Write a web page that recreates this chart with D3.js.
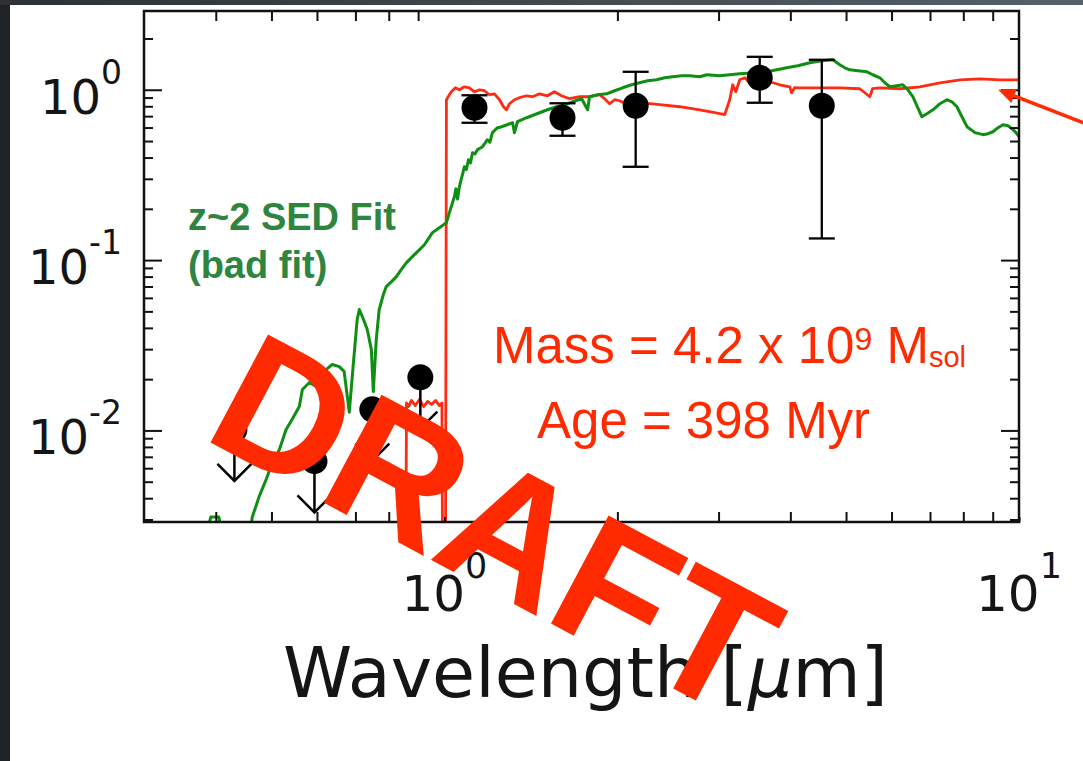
<!DOCTYPE html>
<html>
<head>
<meta charset="utf-8">
<script src="https://cdn.jsdelivr.net/npm/d3@7"></script>
<style>
  html, body { margin: 0; padding: 0; background: #24282c; }
  svg { display: block; }
</style>
</head>
<body>
<svg id="chart" width="1083" height="761"></svg>
<script>
// ---- SED model spectra: wavelength [um] and flux (arbitrary, normalised) ----
const redWave = [0.850, 0.856, 0.859, 0.866, 0.876, 0.890, 0.905, 0.920, 0.935, 0.950, 0.965, 0.980, 0.990, 0.993,
  1.004, 1.008, 1.020, 1.028, 1.045, 1.062, 1.083, 1.105, 1.128, 1.151, 1.174, 1.198, 1.222, 1.247, 1.267, 1.282,
  1.298, 1.324, 1.351, 1.390, 1.423, 1.464, 1.511, 1.554, 1.599, 1.651, 1.719, 1.789, 1.862, 1.900, 1.939, 1.978,
  2.018, 2.067, 2.143, 2.276, 2.369, 2.567, 2.782, 2.954, 3.075, 3.137, 3.175, 3.214, 3.266, 3.332, 3.426, 3.538,
  3.683, 3.833, 3.991, 4.020, 4.070, 4.154, 4.501, 4.877, 5.284, 5.500, 5.560, 5.726, 6.204, 6.722, 7.285, 7.892,
  8.552, 9.267, 10.0];
const redFlux = [0.0010, 0.0010, 0.0145, 0.0138, 0.0150, 0.0140, 0.0152, 0.0138, 0.0148, 0.0142, 0.0150, 0.0140, 0.0145, 0.0010,
  0.0010, 0.874, 0.935, 0.973, 1.027, 1.000, 1.041, 1.027, 0.973, 1.000, 0.987, 0.935, 0.947, 0.874, 0.795, 0.763,
  0.828, 0.874, 0.898, 0.922, 0.910, 0.947, 0.922, 0.973, 0.922, 0.886, 0.910, 0.910, 0.935, 0.886, 0.828, 0.874,
  0.862, 0.828, 0.828, 0.828, 0.817, 0.795, 0.763, 0.733, 0.714, 0.874, 1.070, 0.973, 1.144, 1.176, 1.070, 1.144,
  1.114, 1.070, 1.041, 0.960, 1.030, 1.027, 1.027, 1.027, 1.014, 0.910, 1.014, 1.027, 1.014, 1.041, 1.099, 1.144,
  1.160, 1.144, 1.144];

const greenWave = [0.380, 0.392, 0.405, 0.415, 0.455, 0.463, 0.476, 0.490, 0.502, 0.516, 0.530, 0.543, 0.559, 0.566,
  0.582, 0.598, 0.610, 0.623, 0.638, 0.656, 0.669, 0.683, 0.694, 0.705, 0.711, 0.723, 0.734, 0.746, 0.752, 0.761,
  0.770, 0.783, 0.792, 0.809, 0.825, 0.841, 0.859, 0.876, 0.894, 0.923, 0.953, 0.980, 1.008, 1.024, 1.041, 1.047,
  1.054, 1.062, 1.070, 1.075, 1.083, 1.092, 1.101, 1.110, 1.119, 1.130, 1.142, 1.165, 1.188, 1.200, 1.212, 1.237,
  1.255, 1.272, 1.314, 1.324, 1.340, 1.390, 1.464, 1.511, 1.567, 1.619, 1.671, 1.733, 1.775, 1.789, 1.847, 1.915,
  1.978, 2.042, 2.117, 2.186, 2.258, 2.341, 2.417, 2.496, 2.588, 2.672, 2.782, 2.861, 3.014, 3.137, 3.266, 3.468,
  3.639, 3.788, 3.943, 4.121, 4.324, 4.537, 4.742, 4.877, 4.976, 5.077, 5.242, 5.435, 5.567, 5.726, 5.842, 5.960,
  6.130, 6.279, 6.406, 6.535, 6.668, 6.776, 6.914, 7.083, 7.285, 7.492, 7.644, 7.798, 7.956, 8.118, 8.382, 8.655,
  8.831, 9.010, 9.192, 9.378, 9.568, 9.761, 9.881, 10.0];
const greenFlux = [0.0020, 0.0031, 0.0031, 0.0020, 0.0020, 0.0031, 0.0041, 0.0052, 0.0065, 0.0077, 0.0101, 0.0116, 0.0138, 0.0174,
  0.0191, 0.0181, 0.0207, 0.0228, 0.0244, 0.0237, 0.0222, 0.0128, 0.0244, 0.0448, 0.0513, 0.0448, 0.0391, 0.0299, 0.0169, 0.0342,
  0.0513, 0.0628, 0.0699, 0.0748, 0.0800, 0.0880, 0.0967, 0.1034, 0.1107, 0.123, 0.145, 0.155, 0.166, 0.198, 0.236, 0.262,
  0.228, 0.270, 0.300, 0.317, 0.353, 0.340, 0.388, 0.372, 0.427, 0.420, 0.445, 0.463, 0.509, 0.492, 0.560, 0.599,
  0.605, 0.615, 0.640, 0.560, 0.649, 0.685, 0.733, 0.763, 0.795, 0.817, 0.850, 0.886, 0.763, 0.910, 0.935, 0.947,
  0.987, 1.027, 1.070, 1.099, 1.129, 1.144, 1.176, 1.192, 1.208, 1.208, 1.192, 1.225, 1.208, 1.225, 1.241, 1.258,
  1.275, 1.310, 1.346, 1.383, 1.440, 1.479, 1.500, 1.402, 1.346, 1.310, 1.292, 1.275, 1.225, 1.176, 1.099, 1.041,
  1.056, 1.070, 1.000, 0.910, 0.784, 0.694, 0.723, 0.763, 0.828, 0.874, 0.850, 0.795, 0.694, 0.607, 0.560, 0.545,
  0.552, 0.567, 0.599, 0.623, 0.615, 0.583, 0.560, 0.530];

// ---- Photometry: detections with error bars ----
const photWave = [1.128, 1.605, 2.152, 3.538, 4.537];
const photFlux = [0.784, 0.685, 0.806, 1.176, 0.806];
const photLow  = [0.640, 0.537, 0.353, 0.839, 0.134];
const photHigh = [0.928, 0.833, 1.275, 1.561, 1.500];

// ---- Photometry: upper limits (arrow drawn down to half the limit) ----
const limWave = [0.431, 0.594, 0.749, 0.908];
const limFlux = [0.0101, 0.0066, 0.0133, 0.0205];

// ---- Axis ticks ----
const xMajorTicks = [1, 10];
const xMajorLabels = ["0", "1"];
const xMinorTicks = [0.4, 0.5, 0.6, 0.7, 0.8, 0.9, 2, 3, 4, 5, 6, 7, 8, 9];
const yMajorTicks = [0.01, 0.1, 1];
const yMajorLabels = ["-2", "-1", "0"];
const yMinorTicks = [0.003, 0.004, 0.005, 0.006, 0.007, 0.008, 0.009,
  0.02, 0.03, 0.04, 0.05, 0.06, 0.07, 0.08, 0.09,
  0.2, 0.3, 0.4, 0.5, 0.6, 0.7, 0.8, 0.9, 2];

const svg = d3.select("#chart");
const W = 1083, H = 761;
const plot = { left: 144, right: 1019, top: 11, bottom: 522 };

const x = d3.scaleLog().domain([0.3, 10]).range([plot.left, plot.right]);
const y = d3.scaleLog().domain([0.0029, 2.9]).range([plot.bottom, plot.top]);

// slide background and white panel
const defs = svg.append("defs");
const grad = defs.append("linearGradient").attr("id", "topband")
  .attr("x1", "0").attr("x2", "1").attr("y1", "0").attr("y2", "0");
grad.append("stop").attr("offset", "0").attr("stop-color", "#2c3135");
grad.append("stop").attr("offset", "1").attr("stop-color", "#56616a");
svg.append("rect").attr("width", W).attr("height", H).attr("fill", "#202427");
svg.append("rect").attr("width", W).attr("height", 5).attr("fill", "url(#topband)");
svg.append("rect").attr("x", 10).attr("y", 5).attr("width", W - 10).attr("height", H - 5).attr("fill", "#ffffff");

defs.append("clipPath").attr("id", "plotclip")
  .append("rect").attr("x", plot.left).attr("y", plot.top)
  .attr("width", plot.right - plot.left).attr("height", plot.bottom - plot.top);

// model spectra
const line = d3.line().x(d => x(d[0])).y(d => y(d[1]));
const spectra = svg.append("g").attr("clip-path", "url(#plotclip)");
spectra.append("path")
  .attr("d", line(d3.zip(redWave, redFlux)))
  .attr("fill", "none").attr("stroke", "#ff2a12").attr("stroke-width", 2.8)
  .attr("stroke-linejoin", "round");
spectra.append("path")
  .attr("d", line(d3.zip(greenWave, greenFlux)))
  .attr("fill", "none").attr("stroke", "#0e8f12").attr("stroke-width", 3)
  .attr("stroke-linejoin", "round");

// photometric detections
const det = svg.append("g").attr("stroke", "#000").attr("stroke-width", 2.3);
photWave.forEach((w, i) => {
  const cx = x(w);
  det.append("line").attr("x1", cx).attr("x2", cx).attr("y1", y(photLow[i])).attr("y2", y(photHigh[i]));
  [photLow[i], photHigh[i]].forEach(v => {
    det.append("line").attr("x1", cx - 13).attr("x2", cx + 13).attr("y1", y(v)).attr("y2", y(v));
  });
  det.append("circle").attr("cx", cx).attr("cy", y(photFlux[i])).attr("r", 13).attr("fill", "#000").attr("stroke", "none");
});

// upper limits
const lim = svg.append("g").attr("stroke", "#000").attr("stroke-width", 2.5).attr("fill", "none");
limWave.forEach((w, i) => {
  const cx = x(w), cy = y(limFlux[i]), tip = y(limFlux[i] * 0.5);
  lim.append("line").attr("x1", cx).attr("x2", cx).attr("y1", cy).attr("y2", tip);
  lim.append("path").attr("d", `M${cx - 17},${tip - 17}L${cx},${tip}L${cx + 17},${tip - 17}`);
  lim.append("circle").attr("cx", cx).attr("cy", cy).attr("r", 13).attr("fill", "#000").attr("stroke", "none");
});

// axes with inward ticks on all four sides
function styleAxis(g) {
  g.select(".domain").remove();
  g.selectAll(".tick line").attr("stroke", "#111").attr("stroke-width", 2);
  g.selectAll(".tick text").remove();
}
const axes = svg.append("g");
axes.append("g").attr("transform", `translate(${plot.left},0)`)
  .call(d3.axisLeft(y).tickValues(yMajorTicks).tickSizeInner(-18).tickSizeOuter(0)).call(styleAxis);
axes.append("g").attr("transform", `translate(${plot.left},0)`)
  .call(d3.axisLeft(y).tickValues(yMinorTicks).tickSizeInner(-9).tickSizeOuter(0)).call(styleAxis);
axes.append("g").attr("transform", `translate(${plot.right},0)`)
  .call(d3.axisRight(y).tickValues(yMajorTicks).tickSizeInner(-18).tickSizeOuter(0)).call(styleAxis);
axes.append("g").attr("transform", `translate(${plot.right},0)`)
  .call(d3.axisRight(y).tickValues(yMinorTicks).tickSizeInner(-9).tickSizeOuter(0)).call(styleAxis);
axes.append("g").attr("transform", `translate(0,${plot.bottom})`)
  .call(d3.axisBottom(x).tickValues(xMinorTicks).tickSizeInner(-10).tickSizeOuter(0)).call(styleAxis);
axes.append("g").attr("transform", `translate(0,${plot.bottom})`)
  .call(d3.axisBottom(x).tickValues(xMajorTicks).tickSizeInner(-5).tickSizeOuter(0)).call(styleAxis);
axes.append("g").attr("transform", `translate(0,${plot.top})`)
  .call(d3.axisTop(x).tickValues(xMinorTicks).tickSizeInner(-10).tickSizeOuter(0)).call(styleAxis);

svg.append("rect")
  .attr("x", plot.left).attr("y", plot.top)
  .attr("width", plot.right - plot.left).attr("height", plot.bottom - plot.top)
  .attr("fill", "none").attr("stroke", "#111").attr("stroke-width", 2.5);

// tick labels as powers of ten
const tickFont = "'DejaVu Sans', sans-serif";
yMajorTicks.forEach((v, i) => {
  const t = svg.append("text")
    .attr("x", 122).attr("y", y(v) + 24)
    .attr("text-anchor", "end").attr("font-family", tickFont).attr("fill", "#151515");
  t.append("tspan").attr("font-size", 48).text("10");
  t.append("tspan").attr("font-size", 33).attr("dy", -30).text(yMajorLabels[i]);
});
xMajorTicks.forEach((v, i) => {
  const t = svg.append("text")
    .attr("x", x(v)).attr("y", 611)
    .attr("text-anchor", "middle").attr("font-family", tickFont).attr("fill", "#151515");
  t.append("tspan").attr("font-size", 50).text("10");
  t.append("tspan").attr("font-size", 35).attr("dy", -33).text(xMajorLabels[i]);
});

// axis title
const xt = svg.append("text")
  .attr("x", (plot.left + plot.right) / 2 + 4).attr("y", 697)
  .attr("text-anchor", "middle").attr("font-family", tickFont)
  .attr("font-size", 70).attr("fill", "#151515");
xt.append("tspan").text("Wavelength [");
xt.append("tspan").attr("font-style", "italic").text("\u03bc");
xt.append("tspan").text("m]");

// annotations
const annFont = "'Liberation Sans', Arial, Helvetica, sans-serif";
svg.append("text").attr("x", 188).attr("y", 230)
  .attr("font-family", annFont).attr("font-weight", "bold").attr("font-size", 38)
  .attr("fill", "#2e8540").text("z~2 SED Fit");
svg.append("text").attr("x", 188).attr("y", 278)
  .attr("font-family", annFont).attr("font-weight", "bold").attr("font-size", 38)
  .attr("fill", "#2e8540").text("(bad fit)");

const red = "#ff2a00";
const mass = svg.append("text").attr("x", 493).attr("y", 363)
  .attr("font-family", annFont).attr("font-size", 51).attr("fill", red);
mass.append("tspan").text("Mass = 4.2 x 10");
mass.append("tspan").attr("font-size", 32).attr("dy", -13).text("9");
mass.append("tspan").attr("font-size", 51).attr("dy", 13).text("\u00a0M");
mass.append("tspan").attr("font-size", 29).attr("dy", 4).text("sol");
svg.append("text").attr("x", 537).attr("y", 438)
  .attr("font-family", annFont).attr("font-size", 51).attr("fill", red)
  .text("Age = 398 Myr");

// pointer to the red model at the long-wavelength end
const tipX = x(9.2), tipY = y(1.0);
const dir = [0.932, 0.362], perp = [-dir[1], dir[0]];
const headLen = 17, headHalf = 7.5;
const bx = tipX + headLen * dir[0], by = tipY + headLen * dir[1];
svg.append("line")
  .attr("x1", bx).attr("y1", by)
  .attr("x2", tipX + 120 * dir[0]).attr("y2", tipY + 120 * dir[1])
  .attr("stroke", red).attr("stroke-width", 3.5);
svg.append("path")
  .attr("d", `M${tipX},${tipY}L${bx + headHalf * perp[0]},${by + headHalf * perp[1]}L${bx - headHalf * perp[0]},${by - headHalf * perp[1]}Z`)
  .attr("fill", red);

// watermark
svg.append("text")
  .attr("transform", "translate(200,437) rotate(28)")
  .attr("font-family", annFont).attr("font-weight", "bold").attr("font-size", 178)
  .attr("fill", red).text("DRAFT");
</script>
</body>
</html>
